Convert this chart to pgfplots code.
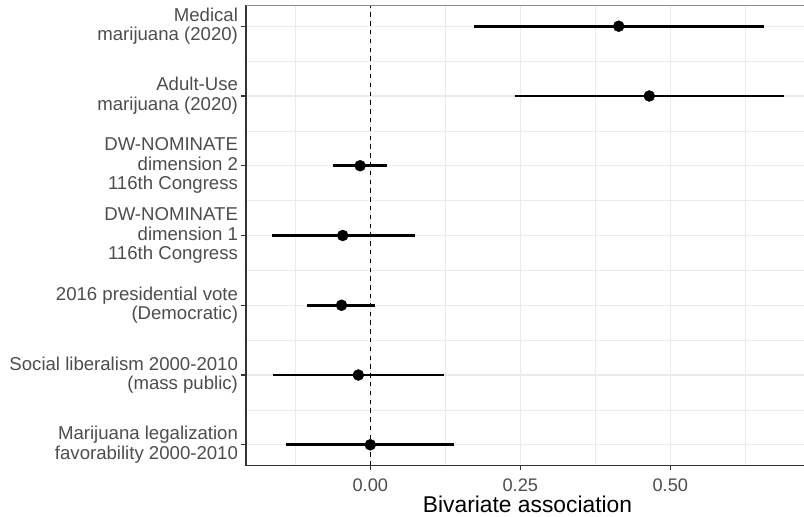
\documentclass[border=0pt]{standalone}
\usepackage{pgfplots}
\pgfplotsset{compat=1.18}
\usepackage{pgfplotstable}
\usepackage{fontspec}
\setmainfont{Liberation Sans}
\definecolor{gridc}{HTML}{EBEBEB}
\definecolor{axtext}{HTML}{4D4D4D}
\definecolor{axline}{HTML}{333333}
\definecolor{topline}{HTML}{8C8C8C}

\pgfplotstableread{
row est lo hi
7 0.414 0.173 0.656
6 0.465 0.241 0.689
5 -0.017 -0.062 0.027
4 -0.046 -0.164 0.074
3 -0.048 -0.105 0.008
2 -0.020 -0.162 0.123
1 0.000 -0.140 0.139
}\coef

\begin{document}
\begin{tikzpicture}
\useasboundingbox (0,0) rectangle (804pt,517pt);
\begin{axis}[
  at={(246pt,51.3pt)}, anchor=south west,
  scale only axis, width=558pt, height=460.4pt,
  xmin=-0.2072, xmax=0.7228, ymin=0.7, ymax=7.3,
  clip=false,
  axis line style={draw=none},
  xtick={0,0.25,0.5}, xticklabels={0.00,0.25,0.50},
  minor xtick={-0.125,0.125,0.375,0.625},
  ytick={1,2,3,4,5,6,7},
  minor ytick={1.5,2.5,3.5,4.5,5.5,6.5},
  yticklabels={
    {Marijuana legalization\\favorability 2000-2010},
    {Social liberalism 2000-2010\\(mass public)},
    {2016 presidential vote\\(Democratic)},
    {DW-NOMINATE\\dimension 1\\116th Congress},
    {DW-NOMINATE\\dimension 2\\116th Congress},
    {Adult-Use\\marijuana (2020)},
    {Medical\\marijuana (2020)}},
  grid=both,
  major grid style={gridc, line width=1.07pt},
  minor grid style={gridc, line width=0.53pt},
  tick align=outside, tick pos=left,
  major tick length=4.5pt, minor tick length=0pt,
  major tick style={axline, line width=1.07pt},
  minor tick style={draw=none},
  xticklabel style={font=\fontsize{18.2}{21}\selectfont, text=axtext, anchor=base, yshift=-21.5pt, text depth=0pt, inner sep=1pt},
  yticklabel style={font=\fontsize{18.6}{19.6}\selectfont, text=axtext, align=right, anchor=east},
  xlabel={Bivariate association},
  xlabel style={font=\fontsize{22.8}{26}\selectfont, text=black, at={(axis description cs:0.5045,0)}, anchor=base, yshift=-47pt, text height=16pt, text depth=0pt, inner sep=0pt},
]
\addplot[black, line width=1.1pt, dash pattern=on 4.5pt off 4.3pt] coordinates {(0,0.7) (0,7.3)};
\addplot[only marks, mark=*, mark size=5.5pt, black,
  error bars/.cd, x dir=both, x explicit, error mark=none,
  error bar style={line width=2.8pt, black}]
  table[x=est, y=row,
    x error plus expr=\thisrow{hi}-\thisrow{est},
    x error minus expr=\thisrow{est}-\thisrow{lo}] {\coef};
\draw[axline, line width=1.07pt] (rel axis cs:0,1) -- (rel axis cs:0,0) -- (rel axis cs:1,0);
\draw[topline, line width=1.07pt] (rel axis cs:0,1) -- (rel axis cs:1,1);
\end{axis}
\end{tikzpicture}
\end{document}
